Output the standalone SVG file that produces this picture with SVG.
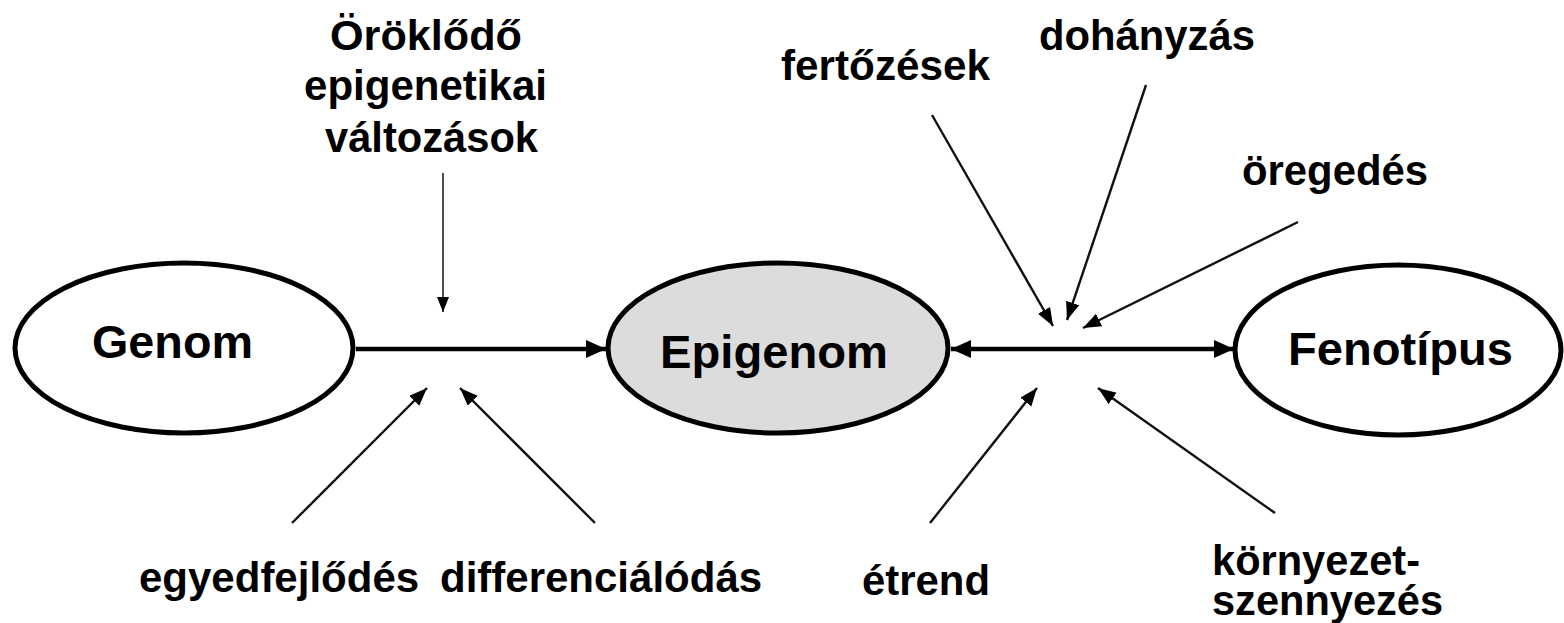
<svg xmlns="http://www.w3.org/2000/svg" width="1564" height="623" viewBox="0 0 1564 623">
  <style>
    .node { stroke: #000; stroke-width: 5; }
    .lbl { font-family: "Liberation Sans", Arial, sans-serif; font-weight: bold; fill: #000; }
    .big { font-size: 46px; }
    .small { font-size: 42px; }
    .thick { stroke: #000; stroke-width: 4.5; fill: none; }
    .thin { stroke: #111; stroke-width: 2.4; fill: none; }
    .hair { stroke: #222; stroke-width: 1.6; fill: none; }
  </style>
  <defs>
    <marker id="headBig" markerUnits="userSpaceOnUse" markerWidth="22" markerHeight="20" refX="20" refY="9" orient="auto-start-reverse">
      <path d="M0,0 L20,9 L0,18 z" fill="#000"/>
    </marker>
    <marker id="headThin" markerUnits="userSpaceOnUse" markerWidth="20" markerHeight="16" refX="18" refY="7" orient="auto">
      <path d="M0,0 L18,7 L0,14 z" fill="#000"/>
    </marker>
    <marker id="headHair" markerUnits="userSpaceOnUse" markerWidth="16" markerHeight="14" refX="15" refY="6" orient="auto">
      <path d="M0,0 L15,6 L0,12 z" fill="#000"/>
    </marker>
  </defs>

  <rect width="1564" height="623" fill="#fff"/>

  <!-- connectors -->
  <g id="connectors">
    <line class="thick" x1="356" y1="349" x2="606" y2="349" marker-end="url(#headBig)"/>
    <line class="thick" x1="951" y1="349" x2="1234" y2="349" marker-start="url(#headBig)" marker-end="url(#headBig)"/>
    <line class="hair" x1="443" y1="173" x2="443" y2="312" marker-end="url(#headHair)"/>
    <line class="thin" x1="292" y1="523" x2="427" y2="388" marker-end="url(#headThin)"/>
    <line class="thin" x1="595" y1="523" x2="460" y2="388" marker-end="url(#headThin)"/>
    <line class="thin" x1="932" y1="115" x2="1053" y2="326" marker-end="url(#headThin)"/>
    <line class="thin" x1="1146" y1="85" x2="1067" y2="320" marker-end="url(#headThin)"/>
    <line class="thin" x1="1298" y1="222" x2="1083" y2="328" marker-end="url(#headThin)"/>
    <line class="thin" x1="930" y1="523" x2="1037" y2="388" marker-end="url(#headThin)"/>
    <line class="thin" x1="1275" y1="513" x2="1098" y2="388" marker-end="url(#headThin)"/>
  </g>

  <!-- nodes -->
  <g id="genom">
    <ellipse class="node" cx="184" cy="348" rx="169" ry="85" fill="#fff"/>
    <text class="lbl big" x="92" y="358" textLength="161" lengthAdjust="spacingAndGlyphs">Genom</text>
  </g>
  <g id="epigenom">
    <ellipse class="node" cx="778" cy="348" rx="170" ry="85" fill="#dcdcdc" stroke-width="4.5"/>
    <text class="lbl big" x="660" y="368" textLength="228" lengthAdjust="spacingAndGlyphs">Epigenom</text>
  </g>
  <g id="fenotipus">
    <ellipse class="node" cx="1398" cy="350" rx="163" ry="85" fill="#fff"/>
    <text class="lbl big" x="1288" y="365" textLength="225" lengthAdjust="spacingAndGlyphs">Fenotípus</text>
  </g>

  <!-- influence labels -->
  <g id="label-orokl">
    <text class="lbl small" x="330" y="50" textLength="192" lengthAdjust="spacingAndGlyphs">Öröklődő</text>
    <text class="lbl small" x="304" y="100" textLength="243" lengthAdjust="spacingAndGlyphs">epigenetikai</text>
    <text class="lbl small" x="325" y="152" textLength="213" lengthAdjust="spacingAndGlyphs">változások</text>
  </g>
  <g id="label-egyed">
    <text class="lbl small" x="139" y="592">egyedfejlődés</text>
  </g>
  <g id="label-diff">
    <text class="lbl small" x="440" y="592">differenciálódás</text>
  </g>
  <g id="label-fertozes">
    <text class="lbl small" x="781" y="80" textLength="209" lengthAdjust="spacingAndGlyphs">fertőzések</text>
  </g>
  <g id="label-dohanyzas">
    <text class="lbl small" x="1039" y="50" textLength="216" lengthAdjust="spacingAndGlyphs">dohányzás</text>
  </g>
  <g id="label-oregedes">
    <text class="lbl small" x="1242" y="185" textLength="186" lengthAdjust="spacingAndGlyphs">öregedés</text>
  </g>
  <g id="label-etrend">
    <text class="lbl small" x="862" y="595" textLength="128" lengthAdjust="spacingAndGlyphs">étrend</text>
  </g>
  <g id="label-kornyezet">
    <text class="lbl small" x="1212" y="575" textLength="208" lengthAdjust="spacingAndGlyphs">környezet-</text>
    <text class="lbl small" x="1212" y="615" textLength="231" lengthAdjust="spacingAndGlyphs">szennyezés</text>
  </g>
</svg>
